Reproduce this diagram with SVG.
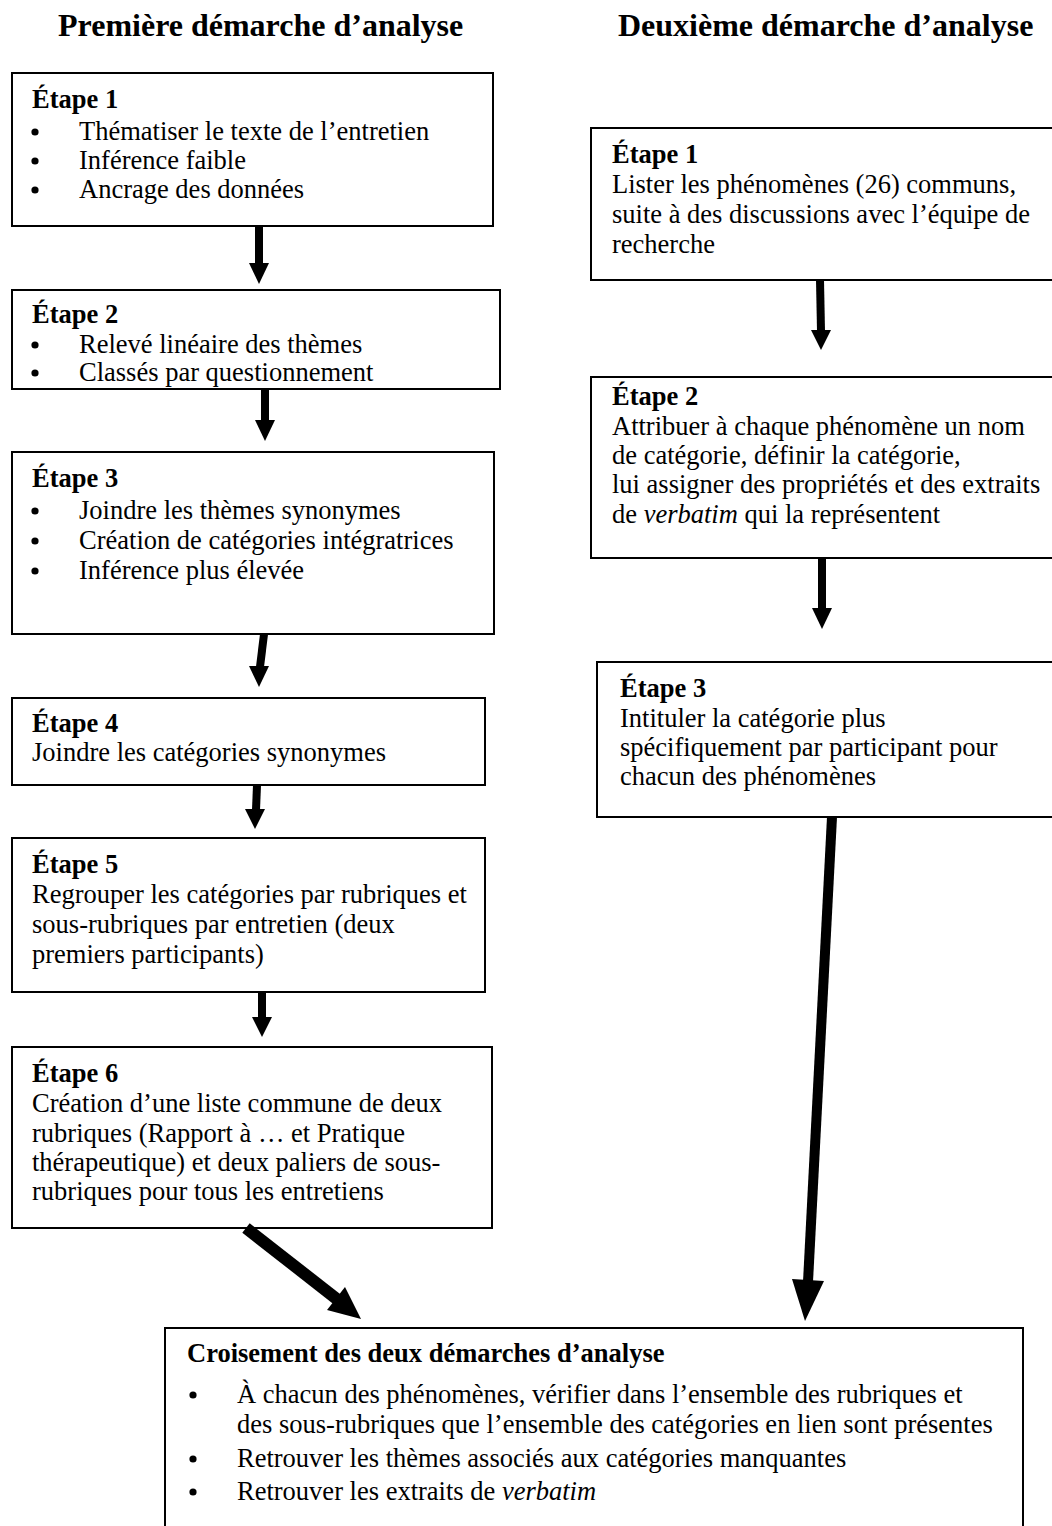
<svg xmlns="http://www.w3.org/2000/svg" width="1052" height="1526" viewBox="0 0 1052 1526">
<style>
text{font-family:"Liberation Serif","Times New Roman",serif;font-size:26.5px;fill:#000}
.t{font-size:32px;font-weight:bold}
.b{font-weight:bold}
.box{fill:#fff;stroke:#000;stroke-width:2}
.sh{stroke:#000;fill:none}
.hd{fill:#000}
.bu{fill:#000}
</style>
<defs><circle id="bul" class="bu" r="3.6"/></defs>
<rect width="1052" height="1526" fill="#fff"/>
<g id="titles">
<text class="t" x="58" y="36">Première démarche d’analyse</text>
<text class="t" x="618" y="36">Deuxième démarche d’analyse</text>
</g>
<g id="L1">
<rect class="box" x="12" y="73" width="481" height="153"/>
<text class="b" x="32" y="108">Étape 1</text>
<use href="#bul" x="35" y="132"/><text x="79" y="140">Thématiser le texte de l’entretien</text>
<use href="#bul" x="35" y="161"/><text x="79" y="169">Inférence faible</text>
<use href="#bul" x="35" y="190"/><text x="79" y="198">Ancrage des données</text>
</g>
<g id="L2">
<rect class="box" x="12" y="290" width="488" height="99"/>
<text class="b" x="32" y="323">Étape 2</text>
<use href="#bul" x="35" y="345"/><text x="79" y="353">Relevé linéaire des thèmes</text>
<use href="#bul" x="35" y="373"/><text x="79" y="381">Classés par questionnement</text>
</g>
<g id="L3">
<rect class="box" x="12" y="452" width="482" height="182"/>
<text class="b" x="32" y="487">Étape 3</text>
<use href="#bul" x="35" y="511"/><text x="79" y="519">Joindre les thèmes synonymes</text>
<use href="#bul" x="35" y="541"/><text x="79" y="549">Création de catégories intégratrices</text>
<use href="#bul" x="35" y="571"/><text x="79" y="579">Inférence plus élevée</text>
</g>
<g id="L4">
<rect class="box" x="12" y="698" width="473" height="87"/>
<text class="b" x="32" y="732">Étape 4</text>
<text x="32" y="761">Joindre les catégories synonymes</text>
</g>
<g id="L5">
<rect class="box" x="12" y="838" width="473" height="154"/>
<text class="b" x="32" y="873">Étape 5</text>
<text x="32" y="903">Regrouper les catégories par rubriques et</text>
<text x="32" y="933">sous-rubriques par entretien (deux</text>
<text x="32" y="963">premiers participants)</text>
</g>
<g id="L6">
<rect class="box" x="12" y="1047" width="480" height="181"/>
<text class="b" x="32" y="1082">Étape 6</text>
<text x="32" y="1112">Création d’une liste commune de deux</text>
<text x="32" y="1142">rubriques (Rapport à … et Pratique</text>
<text x="32" y="1171">thérapeutique) et deux paliers de sous-</text>
<text x="32" y="1200">rubriques pour tous les entretiens</text>
</g>
<g id="R1">
<rect class="box" x="591" y="128" width="470" height="152"/>
<text class="b" x="612" y="163">Étape 1</text>
<text x="612" y="193">Lister les phénomènes (26) communs,</text>
<text x="612" y="223">suite à des discussions avec l’équipe de</text>
<text x="612" y="253">recherche</text>
</g>
<g id="R2">
<rect class="box" x="591" y="377" width="470" height="181"/>
<text class="b" x="612" y="405">Étape 2</text>
<text x="612" y="435">Attribuer à chaque phénomène un nom</text>
<text x="612" y="464">de catégorie, définir la catégorie,</text>
<text x="612" y="493">lui assigner des propriétés et des extraits</text>
<text x="612" y="523">de <tspan font-style="italic">verbatim</tspan> qui la représentent</text>
</g>
<g id="R3">
<rect class="box" x="597" y="662" width="464" height="155"/>
<text class="b" x="620" y="697">Étape 3</text>
<text x="620" y="727">Intituler la catégorie plus</text>
<text x="620" y="756">spécifiquement par participant pour</text>
<text x="620" y="785">chacun des phénomènes</text>
</g>
<g id="C">
<rect class="box" x="165" y="1328" width="858" height="220"/>
<text class="b" x="187" y="1362">Croisement des deux démarches d’analyse</text>
<use href="#bul" x="193" y="1395"/><text x="237" y="1403">À chacun des phénomènes, vérifier dans l’ensemble des rubriques et</text>
<text x="237" y="1433">des sous-rubriques que l’ensemble des catégories en lien sont présentes</text>
<use href="#bul" x="193" y="1459"/><text x="237" y="1467">Retrouver les thèmes associés aux catégories manquantes</text>
<use href="#bul" x="193" y="1492"/><text x="237" y="1500">Retrouver les extraits de <tspan font-style="italic">verbatim</tspan></text>
</g>
<g id="connectors">
<line class="sh" stroke-width="8" x1="259" y1="226" x2="259" y2="264"/>
<polygon class="hd" points="249,263 269,263 259,284"/>
<line class="sh" stroke-width="8" x1="265" y1="389" x2="265" y2="421"/>
<polygon class="hd" points="255,420 275,420 265,441"/>
<line class="sh" stroke-width="8" x1="264" y1="634" x2="260" y2="667"/>
<polygon class="hd" points="249,666 269,666 259,687"/>
<line class="sh" stroke-width="8" x1="257" y1="785" x2="256" y2="810"/>
<polygon class="hd" points="245,809 265,809 255,829"/>
<line class="sh" stroke-width="8" x1="262" y1="992" x2="262" y2="1018"/>
<polygon class="hd" points="252,1017 272,1017 262,1037"/>
<line class="sh" stroke-width="8" x1="820" y1="280" x2="821" y2="331"/>
<polygon class="hd" points="811,330 831,330 821,350"/>
<line class="sh" stroke-width="8" x1="822" y1="558" x2="822" y2="609"/>
<polygon class="hd" points="812,608 832,608 822,629"/>
<line class="sh" stroke-width="10" x1="832" y1="817" x2="808" y2="1282"/>
<polygon class="hd" points="792,1279 824,1281 805,1321"/>
<line class="sh" stroke-width="12" x1="246" y1="1228" x2="338" y2="1300"/>
<polygon class="hd" points="345,1287 327,1310 361,1319"/>
</g>
</svg>
